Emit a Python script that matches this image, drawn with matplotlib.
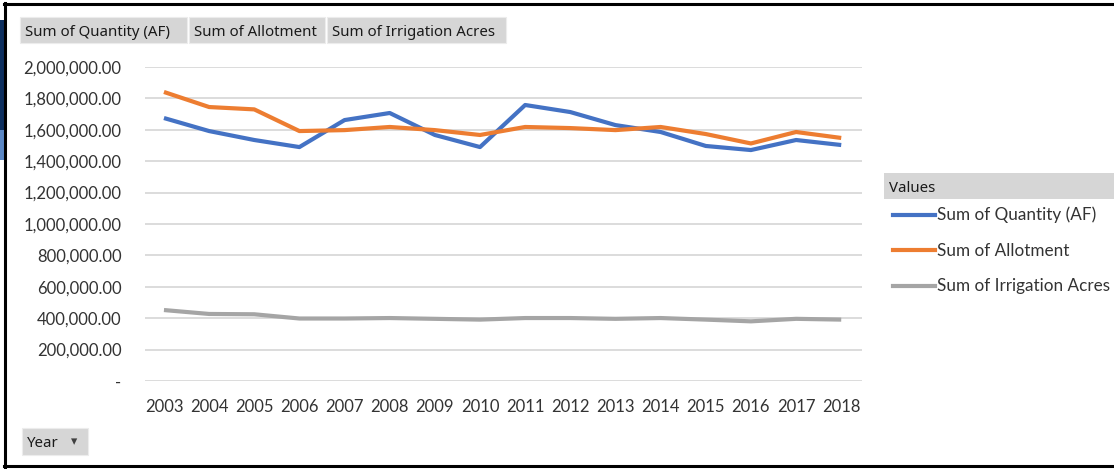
import matplotlib.pyplot as plt
from matplotlib.patches import Rectangle
from matplotlib.lines import Line2D
from matplotlib.ticker import FuncFormatter

# データ
years = [str(y) for y in range(2003, 2019)]
quantity = [1675000, 1592000, 1535000, 1490000, 1662000, 1707000, 1567000, 1490000,
            1758000, 1713000, 1630000, 1586000, 1497000, 1471000, 1535000, 1503000]
allotment = [1841000, 1745000, 1730000, 1592000, 1598000, 1618000, 1598000, 1567000,
             1618000, 1611000, 1598000, 1618000, 1573000, 1513000, 1586000, 1548000]
irrigation = [452000, 427000, 425000, 398000, 398000, 401000, 396000, 391000,
              401000, 401000, 396000, 401000, 391000, 380000, 396000, 391000]
series_names = ["Sum of Quantity (AF)", "Sum of Allotment", "Sum of Irrigation Acres"]
colors = ["#4472C4", "#ED7D31", "#A5A5A5"]

W, H = 1114, 469
plt.rcParams['font.family'] = ['Lato', 'DejaVu Sans']

fig = plt.figure(figsize=(W / 100, H / 100), dpi=100)


def fx(px):
    return px / W


def fy(py):
    return 1 - py / H


ax = fig.add_axes([fx(145), fy(381), fx(862) - fx(145), fy(67) - fy(381)])
x = range(len(years))
for vals, c in zip([quantity, allotment, irrigation], colors):
    ax.plot(x, vals, color=c, lw=3, solid_capstyle='butt', solid_joinstyle='round')

ax.set_ylim(0, 2000000)
ax.set_yticks(range(0, 2000001, 200000))
ax.set_xlim(-0.42, len(years) - 1 + 0.46)
ax.set_xticks(list(x))
ax.set_xticklabels(years)
ax.yaxis.set_major_formatter(FuncFormatter(lambda v, p: "-" if v == 0 else f"{v:,.2f}"))
ax.grid(axis='y', color='#d9d9d9', lw=1.3)
ax.set_axisbelow(True)
for s in ax.spines.values():
    s.set_visible(False)
ax.tick_params(axis='both', length=0, labelsize=12, colors='#333333')
ax.tick_params(axis='y', pad=17)
ax.tick_params(axis='x', pad=13)

# 枠線と左端の帯
fig.add_artist(Rectangle((0, fy(130)), fx(4), fy(20) - fy(130),
                         transform=fig.transFigure, color='#0d2f5e', lw=0))
fig.add_artist(Rectangle((0, fy(160)), fx(4), fy(130) - fy(160),
                         transform=fig.transFigure, color='#5b87c5', lw=0))
fig.add_artist(Line2D([fx(5), fx(5)], [fy(3), fy(467)], transform=fig.transFigure, color='black', lw=2.2))
fig.add_artist(Line2D([fx(4), 1], [fy(4), fy(4)], transform=fig.transFigure, color='black', lw=2.2))
fig.add_artist(Line2D([fx(4), 1], [fy(466), fy(466)], transform=fig.transFigure, color='black', lw=2.2))


def button(x0, y0, x1, y1, label):
    fig.add_artist(Rectangle((fx(x0), fy(y1)), fx(x1) - fx(x0), fy(y0) - fy(y1),
                             transform=fig.transFigure, facecolor='#d6d6d6',
                             edgecolor='#ececec', lw=0.8))
    fig.text(fx(x0 + 5), fy((y0 + y1) / 2 + 2), label, fontsize=10.8, color='#1a1a1a',
             va='center', ha='left', family=['Noto Sans', 'DejaVu Sans'])


# 上部のフィールドボタン
button(20, 17, 187, 43, series_names[0])
button(189, 17, 325, 43, series_names[1])
button(327, 17, 506, 43, series_names[2])
button(22, 428, 88, 455, "Year")
fig.text(fx(74), fy(442), "\u25be", fontsize=9, color='#404040', va='center', ha='center',
         family=['DejaVu Sans'])

# 凡例
fig.add_artist(Rectangle((fx(884), fy(199)), 1 - fx(884), fy(173) - fy(199),
                         transform=fig.transFigure, facecolor='#d6d6d6', lw=0))
fig.text(fx(889), fy(188), "Values", fontsize=10.8, color='#1a1a1a', va='center', ha='left',
         family=['Noto Sans', 'DejaVu Sans'])
for i, (name, c) in enumerate(zip(series_names, colors)):
    yy = fy(215 + i * 35.5)
    fig.add_artist(Line2D([fx(893), fx(935)], [yy, yy], transform=fig.transFigure, color=c, lw=3))
    fig.text(fx(937), yy, name, fontsize=12.3, color='#333333', va='center', ha='left')

fig.savefig("out.png", dpi=100, facecolor='white')
